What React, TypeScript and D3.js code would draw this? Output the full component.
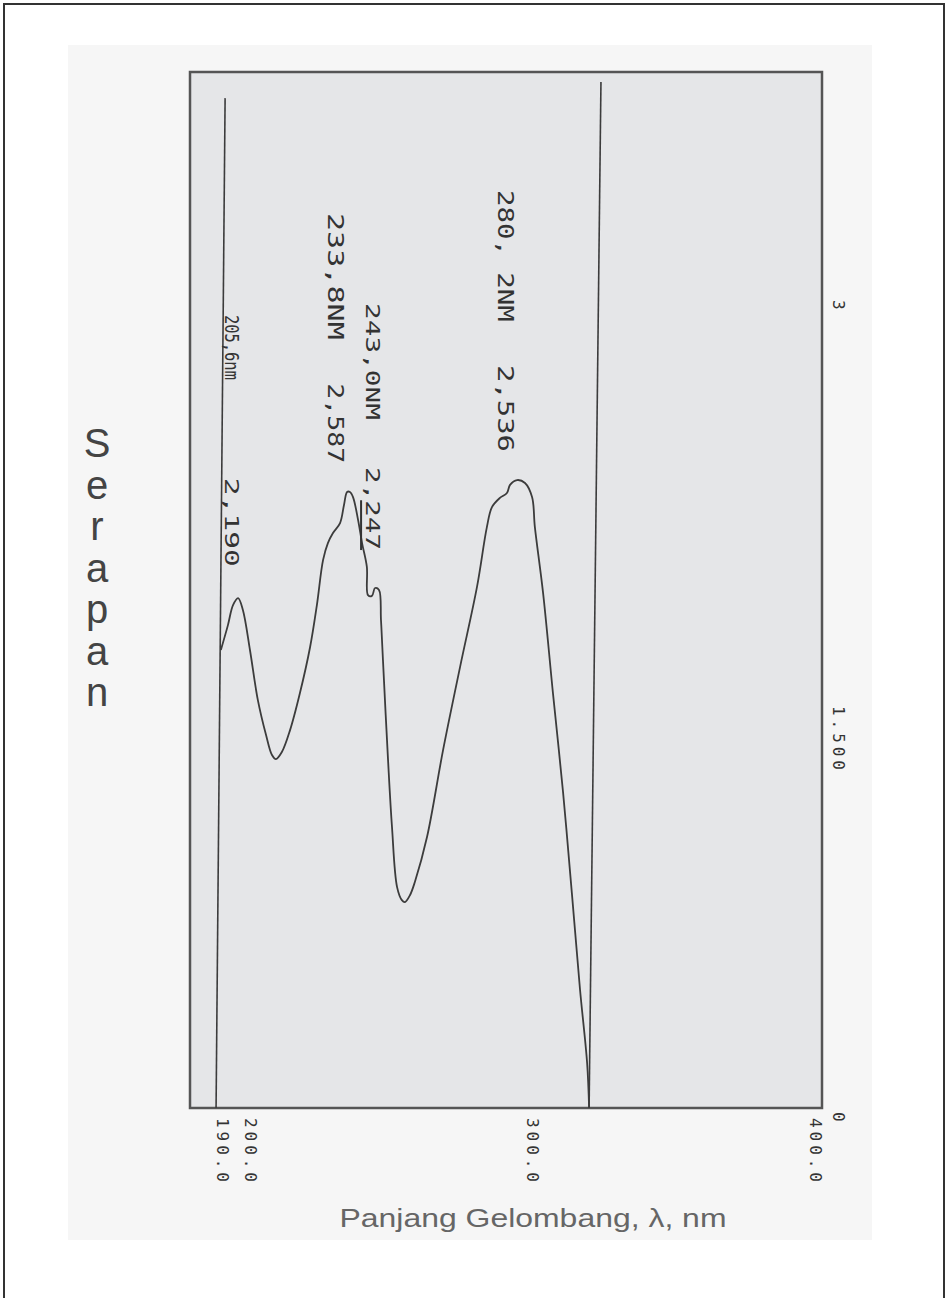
import * as d3 from "d3";

// UV spectrum trace (nm, absorbance)
const wavelength = [
	189.6, 192.1, 193.9, 195.7, 197.4, 199.9, 202.7, 205.6, 207.7, 209.1, 211.2, 214.1,
	217.6, 221.2, 223.6, 225.8, 227.5, 229.3, 231.8, 233.2, 234.3, 235.3, 236.4, 238.2,
	239.6, 241.3, 241.7, 243.1, 244.2, 245.6, 246.3, 247.0, 248.8, 250.2, 252.0, 253.7,
	254.8, 256.6, 258.3, 262.6, 268.3, 274.3, 280.3, 283.8, 285.6, 288.4, 290.9, 292.0,
	294.5, 297.3, 299.8, 300.8, 303.7, 307.2, 310.8, 313.9, 316.8, 319.3, 320.0,
];
const absorbance = [
	1.729, 1.821, 1.895, 1.921, 1.877, 1.729, 1.544, 1.415, 1.341, 1.326, 1.352, 1.433,
	1.57, 1.74, 1.895, 2.062, 2.124, 2.161, 2.198, 2.265, 2.313, 2.313, 2.294, 2.209,
	2.124, 2.036, 1.932, 1.929, 1.958, 1.951, 1.84, 1.692, 1.323, 1.075, 0.853, 0.805,
	0.798, 0.824, 0.872, 1.038, 1.36, 1.666, 1.962, 2.183, 2.257, 2.291, 2.309, 2.339,
	2.357, 2.346, 2.294, 2.183, 1.94, 1.57, 1.201, 0.831, 0.473, 0.203, 0.037,
];

// the two marker lines of the scan (slightly skewed in the scan)
const markerTopNm = [191.1, 324.2];
const markerBottomNm = [187.9, 320.0];
const markerTopAbs = [3.768, 3.828];
const markerBottomAbs = 0.037;

const xTicks = [190, 200, 300, 400];
const xTickLabels = ["190.0", "200.0", "300.0", "400.0"];
const yTicks = [0, 1.5, 3];
const yTickLabels = ["0", "1.500", "3"];

// handwritten peak notes
const noteNames = ["280, 2NM", "233,8NM", "243,0NM", "205,6nm"];
const noteValues = ["2,536", "2,587", "2,247", "2,190"];

// where the notes sit (nm, absorbance of first/second piece) + text lengths
const noteLayout = [
	{ nm: 290.2, a1: 3.429, a2: 2.782, len1: 132, len2: 87, size: 21 },
	{ nm: 230.0, a1: 3.344, a2: 2.715, len1: 127, len2: 80, size: 21 },
	{ nm: 243.5, a1: 3.011, a2: 2.405, len1: 117, len2: 83, size: 20 },
	{ nm: 193.5, a1: 2.967, a2: 2.365, len1: 65, len2: 89, size: 19 },
];

const W = 948;
const H = 1298;
const PLOT = { left: 190, right: 822, top: 72, bottom: 1108 };

const INK = "#3c3c3c";
const MONO = "'DejaVu Sans Mono', monospace";
const SANS = "'Liberation Sans', Arial, sans-serif";

export default function App() {
	const x = d3.scaleLinear().domain([190, 400]).range([222, 815]);
	const y = d3.scaleLinear().domain([0, 3]).range([1118, 306]);

	const pts = wavelength.map((w, i) => [w, absorbance[i]] as [number, number]);
	const line = d3
		.line<[number, number]>()
		.x((d) => x(d[0]))
		.y((d) => y(d[1]))
		.curve(d3.curveCatmullRom.alpha(0.5));

	const serapan = "Serapan".split("");

	return (
		<>
			<style>{`body{margin:0}`}</style>
			<svg width={W} height={H} style={{ display: "block" }}>
				<rect x={0} y={0} width={W} height={H} fill="#ffffff" />
				<rect x={68} y={45} width={804} height={1195} fill="#f6f6f6" />
				<rect x={4} y={4} width={940} height={H + 10} fill="none" stroke="#333" strokeWidth={2} />

				{/* plot paper */}
				<rect
					x={PLOT.left}
					y={PLOT.top}
					width={PLOT.right - PLOT.left}
					height={PLOT.bottom - PLOT.top}
					fill="#e5e6e8"
					stroke="#555"
					strokeWidth={2.5}
				/>

				{/* marker lines */}
				{markerTopNm.map((t, i) => (
					<line
						key={i}
						x1={x(t)}
						y1={y(markerTopAbs[i])}
						x2={x(markerBottomNm[i])}
						y2={y(markerBottomAbs)}
						stroke={INK}
						strokeWidth={1.6}
					/>
				))}

				{/* spectrum */}
				<path d={line(pts) ?? ""} fill="none" stroke={INK} strokeWidth={1.8} strokeLinejoin="round" />

				{/* x tick labels */}
				{xTicks.map((t, i) => (
					<text
						key={t}
						transform={`translate(${x(t)},${PLOT.bottom + 10}) rotate(90)`}
						dominantBaseline="central"
						fontFamily={MONO}
						fontSize={16}
						fill="#333"
						textLength={64}
						lengthAdjust="spacing"
					>
						{xTickLabels[i]}
					</text>
				))}

				{/* y tick labels (right side) */}
				{yTicks.map((t, i) => (
					<text
						key={t}
						transform={`translate(${PLOT.right + 16},${y(t) - 6}) rotate(90)`}
						dominantBaseline="central"
						fontFamily={MONO}
						fontSize={16}
						fill="#333"
						{...(yTickLabels[i].length > 1 ? { textLength: 64, lengthAdjust: "spacing" } : {})}
					>
						{yTickLabels[i]}
					</text>
				))}

				{/* handwritten notes */}
				{noteLayout.map((n, i) => (
					<g key={i} fill="#333" fontFamily={MONO} fontSize={n.size}>
						<text
							transform={`translate(${x(n.nm)},${y(n.a1)}) rotate(90)`}
							dominantBaseline="central"
							textLength={n.len1}
							lengthAdjust="spacingAndGlyphs"
						>
							{noteNames[i]}
						</text>
						<text
							transform={`translate(${x(n.nm)},${y(n.a2)}) rotate(90)`}
							dominantBaseline="central"
							textLength={n.len2}
							lengthAdjust="spacingAndGlyphs"
						>
							{i === 2 ? (
								<>
									{"2,"}
									<tspan textDecoration="underline">247</tspan>
								</>
							) : (
								noteValues[i]
							)}
						</text>
					</g>
				))}

				{/* axis titles */}
				<text textAnchor="middle" fontFamily={SANS} fontSize={40} fill="#444">
					{serapan.map((ch, i) => (
						<tspan key={i} x={97} y={457 + i * 41.5}>
							{ch}
						</tspan>
					))}
				</text>
				<text
					x={533}
					y={1227}
					textAnchor="middle"
					fontFamily={SANS}
					fontSize={25}
					fill="#666"
					textLength={387}
					lengthAdjust="spacingAndGlyphs"
				>
					Panjang Gelombang, λ, nm
				</text>
			</svg>
		</>
	);
}
